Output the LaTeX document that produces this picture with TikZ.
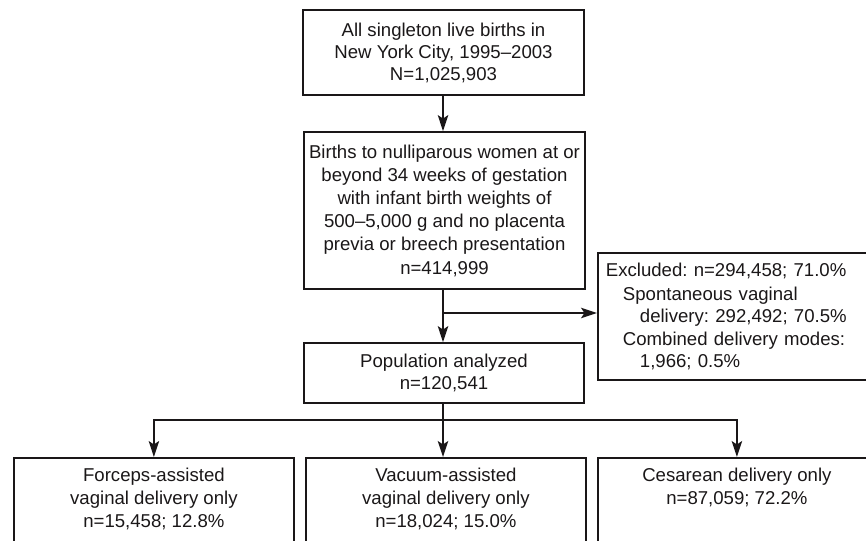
\documentclass[tikz,border=0pt]{standalone}
\usepackage{fontspec}
\setmainfont{Liberation Sans}
\usetikzlibrary{arrows.meta}
\definecolor{ink}{HTML}{1A1718}
\frenchspacing
\begin{document}
\begin{tikzpicture}[x=1pt,y=-1pt,
  box/.style={draw=ink, line width=1.8pt, inner sep=0pt, align=center, text=ink,
    font=\fontsize{18.6}{22}\selectfont},
  txt/.style={inner sep=0pt, align=center, text=ink, font=\fontsize{18.6}{23}\selectfont},
  arr/.style={draw=ink, line width=1.4pt, -{Stealth[length=16pt,width=10.5pt,inset=3.5pt]}},
  ln/.style={draw=ink, line width=1.4pt}]
\useasboundingbox (0,0) rectangle (866,540);
\clip (0,0) rectangle (866,540);
\node[box, minimum width=281pt, minimum height=85pt] (top) at (443.5,52.5)
  {All singleton live births in\\New York City, 1995--2003\\N=1,025,903};
\node[box, minimum width=281pt, minimum height=157pt, font=\fontsize{18.6}{23.2}\selectfont] (elig) at (444.5,210.5)
  {Births to nulliparous women at or\\beyond 34 weeks of gestation\\with infant birth weights of\\500--5,000 g and no placenta\\previa or breech presentation\\n=414,999};
\node[box, minimum width=280pt, minimum height=60pt] (pop) at (444,373)
  {Population analyzed\\n=120,541};
\node[box, anchor=north west, minimum height=127pt, text width=262pt, inner xsep=8pt, align=left] (excl) at (597,252)
  {Excluded: n=294,458; 71.0\%\\[2pt]
   \hspace*{17pt}Spontaneous vaginal\\
   \hspace*{34pt}delivery: 292,492; 70.5\%\\[1pt]
   \hspace*{17pt}Combined delivery modes:\\
   \hspace*{34pt}1,966; 0.5\%};
\node[box, anchor=north west, minimum width=280pt, minimum height=100pt] (fb) at (13,457) {};
\node[box, anchor=north west, minimum width=280pt, minimum height=100pt] (vb) at (305,457) {};
\node[box, anchor=north west, minimum width=278pt, minimum height=100pt] (cb) at (597,457) {};
\node[txt, anchor=north] (fbt) at ([yshift=-11pt]fb.north)
  {Forceps-assisted\\vaginal delivery only\\n=15,458; 12.8\%};
\node[txt, anchor=north] (vbt) at ([yshift=-11pt]vb.north)
  {Vacuum-assisted\\vaginal delivery only\\n=18,024; 15.0\%};
\node[txt, anchor=north] (cbt) at ([yshift=-11pt]cb.north)
  {Cesarean delivery only\\n=87,059; 72.2\%};
\coordinate (j) at (443,313);
\coordinate (b) at (443,420);
\draw[arr] (top.south -| j) -- (elig.north -| j);
\draw[arr] (elig.south -| j) -- (pop.north -| j);
\draw[arr] (j) -- (j -| excl.west);
\draw[ln] (pop.south -| b) -- (b);
\draw[arr] (b) -| (fb.north);
\draw[arr] (b) -- (b |- vb.north);
\draw[arr] (b) -| (cb.north);
\end{tikzpicture}
\end{document}
